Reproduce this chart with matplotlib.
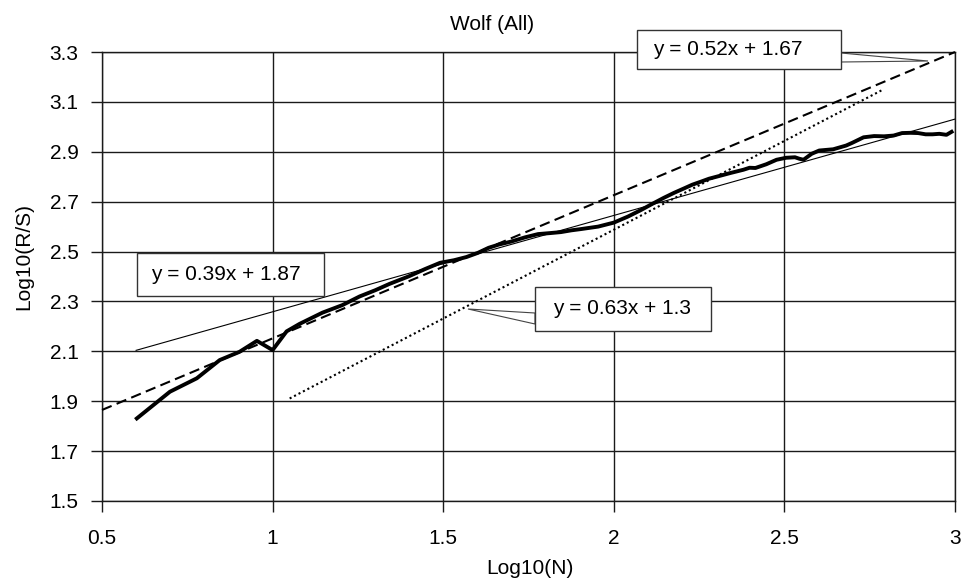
import matplotlib
matplotlib.use("Agg")
import matplotlib.pyplot as plt
from matplotlib.patches import Rectangle, Polygon

plt.rcParams['font.family'] = ['Liberation Sans', 'DejaVu Sans']

# ---- data ----
log_n = [0.602, 0.699, 0.778, 0.845, 0.903, 0.954, 1.0, 1.041, 1.079, 1.146,
         1.204, 1.255, 1.301, 1.342, 1.398, 1.447, 1.491, 1.531, 1.568, 1.602,
         1.633, 1.663, 1.699, 1.740, 1.778, 1.813, 1.845, 1.875, 1.903, 1.954,
         2.0, 2.041, 2.079, 2.114, 2.146, 2.176, 2.204, 2.230, 2.255, 2.279,
         2.301, 2.342, 2.380, 2.398, 2.415, 2.447, 2.477, 2.505, 2.531, 2.544,
         2.556, 2.580, 2.602, 2.643, 2.681, 2.699, 2.732, 2.763, 2.792, 2.820,
         2.845, 2.870, 2.892, 2.914, 2.934, 2.954, 2.975, 2.990]
log_rs = [1.831, 1.938, 1.992, 2.065, 2.098, 2.142, 2.105, 2.180, 2.210, 2.255,
          2.285, 2.320, 2.345, 2.370, 2.400, 2.430, 2.455, 2.465, 2.478, 2.495,
          2.515, 2.528, 2.540, 2.557, 2.570, 2.574, 2.578, 2.585, 2.590, 2.600,
          2.616, 2.640, 2.666, 2.692, 2.715, 2.735, 2.752, 2.768, 2.780, 2.792,
          2.800, 2.815, 2.828, 2.836, 2.835, 2.850, 2.868, 2.876, 2.878, 2.872,
          2.868, 2.892, 2.905, 2.910, 2.925, 2.936, 2.958, 2.963, 2.962, 2.965,
          2.975, 2.976, 2.975, 2.970, 2.970, 2.972, 2.968, 2.980]

trend_solid_x = [0.6, 3.0]
trend_solid_y = [2.104, 3.031]
trend_dash_x = [0.5, 3.0]
trend_dash_y = [1.865, 3.3]
trend_dot_x = [1.05, 2.79]
trend_dot_y = [1.911, 3.15]

eq_labels = ["y = 0.39x + 1.87", "y = 0.63x + 1.3", "y = 0.52x + 1.67"]

x_ticks = [0.5, 1, 1.5, 2, 2.5, 3]
x_ticklabels = ["0.5", "1", "1.5", "2", "2.5", "3"]
y_ticks = [1.5, 1.7, 1.9, 2.1, 2.3, 2.5, 2.7, 2.9, 3.1, 3.3]
y_ticklabels = ["1.5", "1.7", "1.9", "2.1", "2.3", "2.5", "2.7", "2.9", "3.1", "3.3"]

title = "Wolf (All)"
xlabel = "Log10(N)"
ylabel = "Log10(R/S)"

# ---- figure ----
W, H = 967, 579
fig = plt.figure(figsize=(W / 100, H / 100), dpi=100)
ax = fig.add_axes([102 / W, 1 - 501 / H, (955 - 102) / W, (501 - 52) / H])

FS = 15
LC = '#1a1a1a'

ax.set_xlim(0.5, 3.0)
ax.set_ylim(1.5, 3.3)
ax.set_xticks(x_ticks)
ax.set_xticklabels(x_ticklabels)
ax.set_yticks(y_ticks)
ax.set_yticklabels(y_ticklabels)
ax.tick_params(axis='both', direction='out', length=8, width=1, color=LC,
               labelsize=FS, labelcolor='black')
ax.tick_params(axis='x', pad=12)
ax.tick_params(axis='y', pad=9)
ax.grid(True, color=LC, linewidth=1.0)
ax.set_axisbelow(True)
for s in ax.spines.values():
    s.set_color(LC)
    s.set_linewidth(1.0)

ax.plot(trend_solid_x, trend_solid_y, color='black', linewidth=0.8, zorder=3)
ax.plot(trend_dash_x, trend_dash_y, color='black', linewidth=1.5,
        linestyle=(0, (5, 2.6)), zorder=3, clip_on=False)
ax.plot(trend_dot_x, trend_dot_y, color='black', linewidth=1.5,
        linestyle=(0, (1, 1.4)), zorder=3)
ax.plot(log_n, log_rs, color='black', linewidth=2.8, solid_joinstyle='round',
        zorder=4)

fig.text(492 / W, 1 - 24 / H, title, ha='center', va='center', fontsize=FS)
fig.text(530 / W, 1 - 568 / H, xlabel, ha='center', va='center', fontsize=FS)
fig.text(24 / W, 1 - 256 / H, ylabel, ha='center', va='center', fontsize=FS,
         rotation=90)


def fx(px):
    return px / W


def fy(py):
    return 1 - py / H


# callout boxes (pixel geometry in figure space)
boxes = [
    (137, 253, 324, 296, 225.5, None),
    (535, 287, 711, 331, 622, [(535, 313), (468, 309), (535, 324)]),
    (637, 30, 841, 69, 728, [(841, 53), (928, 61), (841, 62)]),
]
for (x0, y0, x1, y1, tx, wedge), lab in zip(boxes, eq_labels):
    if wedge is not None:
        poly = Polygon([(fx(a), fy(b)) for a, b in wedge], closed=True,
                       transform=fig.transFigure, facecolor='white',
                       edgecolor='#444444', linewidth=0.8, zorder=9)
        fig.add_artist(poly)
    rect = Rectangle((fx(x0), fy(y1)), fx(x1) - fx(x0), fy(y0) - fy(y1),
                     transform=fig.transFigure, facecolor='white',
                     edgecolor='#333333', linewidth=1.0, zorder=10)
    fig.add_artist(rect)
    fig.text(fx(tx), fy((y0 + y1) / 2), lab, ha='center', va='center',
             fontsize=FS, zorder=11)

fig.savefig('out.png', dpi=100)
